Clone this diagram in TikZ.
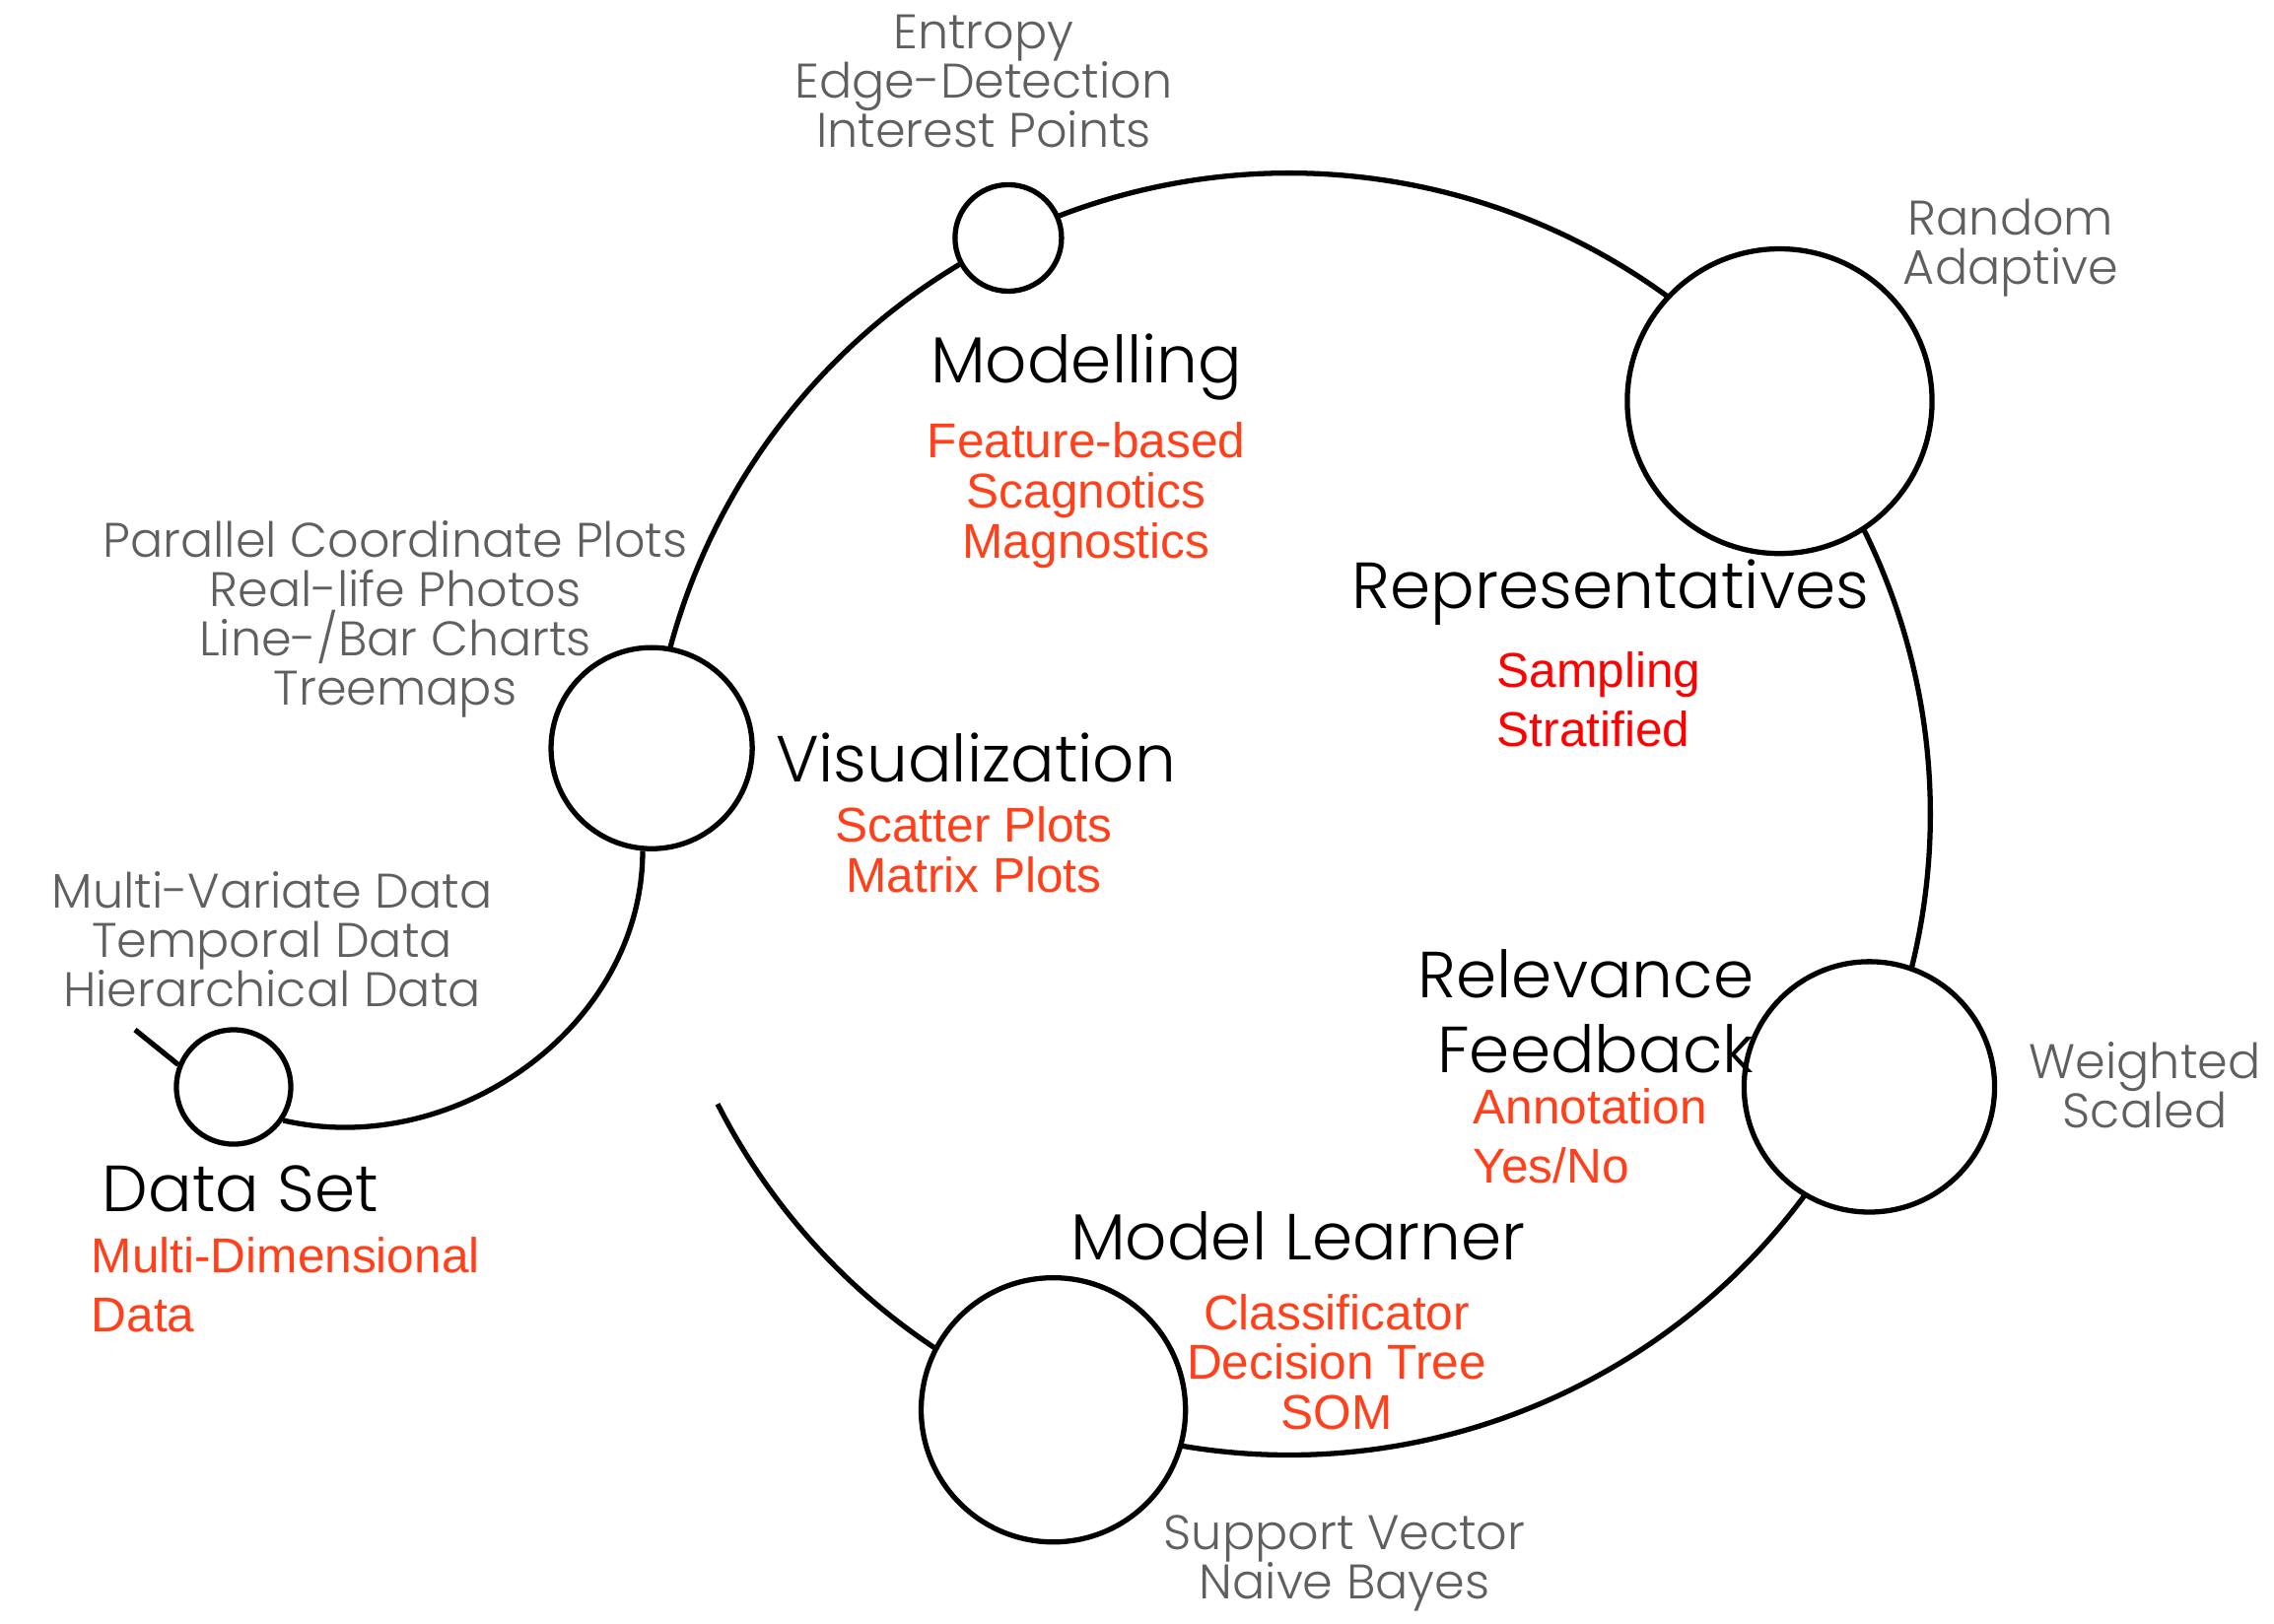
\documentclass[tikz,border=0pt]{standalone}
\usepackage{fontspec}
\setmainfont{Poppins}
\newfontfamily\thinfont{Poppins Light}
\newfontfamily\redfont{Liberation Sans}
\usetikzlibrary{calc,backgrounds}
\definecolor{inkgrey}{RGB}{95,95,95}
\definecolor{inkred}{RGB}{255,64,26}
\definecolor{purered}{RGB}{255,0,0}
\newcommand\tightlines{\lineskiplimit=-20pt\relax}
\tikzset{
    hub/.style={circle,draw,fill=white,line width=1.5pt,inner sep=0pt,minimum size=#1},
    ring/.style={line width=1.5pt},
    stage/.style={font={\thinfont\fontsize{18.8}{21.6}\selectfont\tightlines},inner sep=0pt,anchor=base},
    tool/.style={font={\redfont\fontsize{14.1}{#1}\selectfont\tightlines},text=inkred,inner sep=0pt,anchor=base},
    tool/.default=14.3pt,
    detail/.style={font={\thinfont\fontsize{14}{14.2}\selectfont\tightlines},text=inkgrey,inner sep=0pt,anchor=base,align=center}
}

\begin{document}
\begin{tikzpicture}[x=0.01cm,y=-0.01cm]
    \useasboundingbox (0,0) rectangle (2307,1647);

        \coordinate (c) at (1308,826);
        \node[hub=1.08cm] (modl) at ($(c)+(116:6.5cm)$) {};
        \node[hub=3.09cm] (repr) at ($(c)+(40.1:6.5cm)$) {};
        \node[hub=2.54cm] (rel) at ($(c)+(-25.2:6.5cm)$) {};
        \node[hub=2.68cm] (ml) at ($(c)+(-111.6:6.5cm)$) {};
        \node[hub=2.04cm] (vis) at ($(c)+(174.1:6.5cm)$) {};
        \node[hub=1.16cm] (dset) at (237,1103) {};
        \coordinate (gap) at ($(c)+(206.9:6.5cm)$);
        \coordinate (tail) at (137,1045);

        \begin{pgfonlayer}{background}
        \draw[ring] (gap) arc[start angle=206.9,end angle=248.4,radius=6.5cm];
        \draw[ring] (ml.center) arc[start angle=-111.6,end angle=-25.2,radius=6.5cm];
        \draw[ring] (rel.center) arc[start angle=-25.2,end angle=40.1,radius=6.5cm];
        \draw[ring] (repr.center) arc[start angle=40.1,end angle=116,radius=6.5cm];
        \draw[ring] (modl.center) arc[start angle=116,end angle=174.1,radius=6.5cm];
        \end{pgfonlayer}
        \draw[ring] (vis.-95) to[out=-90,in=-13] (dset.-34);
        \draw[ring] (dset.158) -- (tail);

        \node[detail] (modlG) at (998,149) {Entropy\\Edge-Detection\\Interest Points};
        \node[stage] (modlT) at (1102,388) {Modelling};
        \node[tool=14.5pt,align=center] (modlR) at (1102,566) {Feature-based\\Scagnotics\\Magnostics};

        \node[detail] (reprG) at (2040,288) {Random\\Adaptive};
        \node[stage] (reprT) at (1634,617) {Representatives};
        \node[tool=16.8pt,align=left,anchor=base west,text=purered] (reprR) at (1518,757) {Sampling\\Stratified};

        \node[detail] (visG) at (401,715) {Parallel Coordinate Plots\\Real-life Photos\\Line-/Bar Charts\\Treemaps};
        \node[stage] (visT) at (990,793) {Visualization};
        \node[tool,align=center] (visR) at (988,905) {Scatter Plots\\Matrix Plots};

        \node[detail] (dsetG) at (276,1021) {Multi-Variate Data\\Temporal Data\\Hierarchical Data};
        \node[stage] (dsetT) at (244,1229) {Data Set};
        \node[tool=16.8pt,align=left,anchor=base west] (dsetR) at (92,1351) {Multi-Dimensional\\Data};

        \node[stage,align=right,anchor=base east] (relT) at (1780,1088) {Relevance\\Feedback};
        \node[tool=17pt,align=left,anchor=base west] (relR) at (1494,1200) {Annotation\\Yes/No};
        \node[detail] (relG) at (2176,1144) {Weighted\\Scaled};

        \node[stage] (mlT) at (1317,1278) {Model Learner};
        \node[tool,align=center] (mlR) at (1356,1450) {Classificator\\Decision Tree\\SOM};
        \node[detail] (mlG) at (1364,1622) {Support Vector\\Naive Bayes};

\end{tikzpicture}
\end{document}
